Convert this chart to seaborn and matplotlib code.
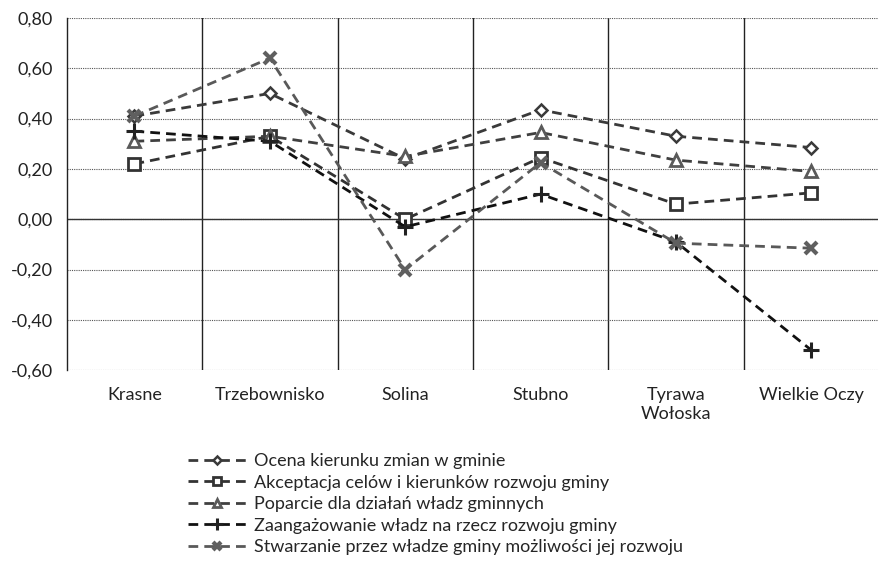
import numpy as np
import pandas as pd
import seaborn as sns
import matplotlib.pyplot as plt
from matplotlib.ticker import FixedLocator, FuncFormatter

# Gminy (x axis)
gminy = ['Krasne', 'Trzebownisko', 'Solina', 'Stubno', 'Tyrawa\nWołoska', 'Wielkie Oczy']

# Series values
ocena = [0.41, 0.50, 0.24, 0.435, 0.33, 0.285]
akceptacja = [0.22, 0.33, 0.00, 0.245, 0.06, 0.105]
poparcie = [0.31, 0.33, 0.25, 0.345, 0.235, 0.19]
zaangazowanie = [0.35, 0.31, -0.03, 0.10, -0.09, -0.52]
stwarzanie = [0.41, 0.64, -0.20, 0.225, -0.095, -0.115]

labels = [
    'Ocena kierunku zmian w gminie',
    'Akceptacja celów i kierunków rozwoju gminy',
    'Poparcie dla działań władz gminnych',
    'Zaangażowanie władz na rzecz rozwoju gminy',
    'Stwarzanie przez władze gminy możliwości jej rozwoju',
]
series = [ocena, akceptacja, poparcie, zaangazowanie, stwarzanie]

# style per series: marker, line colour, marker colour, fill, size, edge width
styles = [
    ('D', '#3a3a3a', '#3a3a3a', 'white', 6, 1.8),
    ('s', '#333333', '#333333', 'white', 8, 2.0),
    ('^', '#404040', '#5a5a5a', 'white', 8, 2.0),
    ('+', '#111111', '#222222', 'none', 12, 2.2),
    ('x', '#595959', '#5f5f5f', 'none', 8, 3.0),
]

sns.set_style('white')
plt.rcParams['font.family'] = ['Lato', 'DejaVu Sans']

fig = plt.figure(figsize=(8.79, 5.61), dpi=100)
ax = fig.add_axes([0.076, 0.340, 0.924, 0.628])

x = np.arange(len(gminy))
handles = []
for vals, lab, (m, lc, mc, fc, ms, mew) in zip(series, labels, styles):
    df = pd.DataFrame({'x': x, 'y': vals})
    sns.lineplot(data=df, x='x', y='y', ax=ax, color=lc, linewidth=2.0,
                 linestyle=(0, (3.5, 2.2)), marker=m, markersize=ms,
                 markerfacecolor=fc, markeredgecolor=mc, markeredgewidth=mew,
                 label=lab, legend=False)
    handles.append(ax.get_lines()[-1])

ax.set_xlim(-0.5, 5.5)
ax.set_ylim(-0.6, 0.8)
ax.set_xlabel('')
ax.set_ylabel('')

ax.set_xticks(x)
ax.set_xticklabels(gminy)
ax.xaxis.set_minor_locator(FixedLocator(np.arange(0.5, 5.0, 1.0)))
ax.tick_params(axis='x', which='both', length=0, pad=12, labelsize=13, colors='#222222')

yt = np.round(np.arange(-0.6, 0.81, 0.2), 2)
ax.set_yticks(yt)
ax.yaxis.set_major_formatter(FuncFormatter(lambda v, p: f'{v:.2f}'.replace('.', ',').replace('-0,00', '0,00')))
ax.tick_params(axis='y', which='major', length=6, width=0.8, color='#555555',
               labelsize=13, labelcolor='#222222', pad=4)

ax.grid(axis='y', which='major', color='#555555', linewidth=0.8, linestyle=(0, (1, 1)))
ax.grid(axis='x', which='minor', color='#222222', linewidth=1.0, linestyle='-')
ax.axhline(0, color='#333333', linewidth=1.0, zorder=1)
ax.set_axisbelow(True)

for s in ['top', 'right', 'bottom']:
    ax.spines[s].set_visible(False)
ax.spines['left'].set_color('#222222')
ax.spines['left'].set_linewidth(1.0)

fig.legend(handles, labels, loc='upper left', bbox_to_anchor=(0.214, 0.192),
           frameon=False, handlelength=3.2, handletextpad=0.45, labelspacing=0.3,
           fontsize=13, numpoints=1, borderaxespad=0, borderpad=0)
for h in fig.legends[0].legend_handles:
    h.set_markersize(h.get_markersize() * 0.75)

fig.savefig('out.png', dpi=100)
